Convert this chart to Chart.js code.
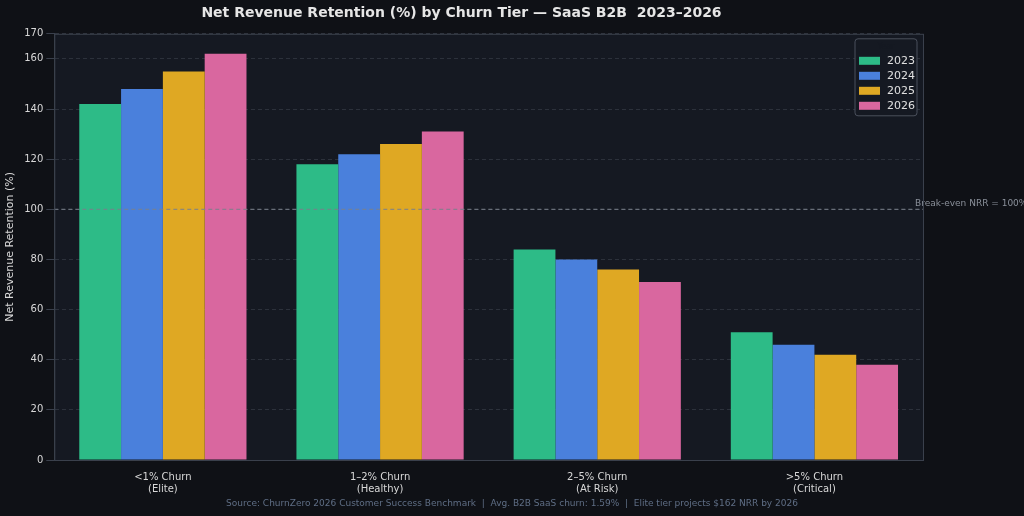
<!DOCTYPE html>
<html><head><meta charset="utf-8">
<script src="https://cdn.jsdelivr.net/npm/chart.js@4"></script>
<style>
html,body{margin:0;background:#0f1116;}
#wrap{width:1024px;height:516px;position:relative;}
</style></head>
<body><div id="wrap"><canvas id="c" width="1024" height="516"></canvas></div>
<script>
const categories = [["<1% Churn", "(Elite)"], ["1–2% Churn", "(Healthy)"], ["2–5% Churn", "(At Risk)"], [">5% Churn", "(Critical)"]];
const years = ["2023", "2024", "2025", "2026"];
const nrr2023 = [142, 118, 84, 51];
const nrr2024 = [148, 122, 80, 46];
const nrr2025 = [155, 126, 76, 42];
const nrr2026 = [162, 131, 71, 38];
const colors = ["#2dbb87", "#4a80dc", "#dfa823", "#d9679f"];
const breakEven = 100;

const font = "'DejaVu Sans', sans-serif";

const extras = {
  id: "extras",
  beforeDraw(chart) {
    const { ctx, chartArea: a } = chart;
    ctx.save();
    ctx.fillStyle = "#151922";
    ctx.fillRect(a.left, a.top, a.right - a.left, a.bottom - a.top);
    ctx.restore();
  },
  afterDatasetsDraw(chart) {
    const { ctx, chartArea: a, scales } = chart;
    const y = scales.y.getPixelForValue(breakEven);
    ctx.save();
    ctx.strokeStyle = "#7a808c";
    ctx.setLineDash([4, 3]);
    ctx.lineWidth = 1;
    ctx.beginPath(); ctx.moveTo(a.left, y); ctx.lineTo(a.right, y); ctx.stroke();
    ctx.setLineDash([]);
    ctx.font = "9px " + font;
    ctx.fillStyle = "#8a909a";
    ctx.textAlign = "left"; ctx.textBaseline = "bottom";
    ctx.fillText("Break-even NRR = 100%", a.right - 8, y - 1);
    // border
    ctx.strokeStyle = "#3a404c";
    ctx.strokeRect(a.left + 0.5, a.top + 0.5, a.right - a.left, a.bottom - a.top);
    // legend
    const lx = a.right - 68, ly = a.top + 5, lw = 62, lh = 77;
    ctx.fillStyle = "#151922"; ctx.strokeStyle = "#4a505c";
    ctx.beginPath(); ctx.roundRect(lx, ly, lw, lh, 3); ctx.fill(); ctx.stroke();
    ctx.font = "8px " + font; ctx.fillStyle = "#151922";
    ctx.textAlign = "center"; ctx.textBaseline = "middle";
    ctx.fillText("Year", lx + lw / 2, ly + 8);
    ctx.font = "11px " + font; ctx.textAlign = "left";
    chart.data.datasets.forEach((ds, i) => {
      const yy = ly + 22 + i * 15;
      ctx.fillStyle = ds.backgroundColor;
      ctx.fillRect(lx + 4, yy - 4, 21, 8);
      ctx.fillStyle = "#e0e0e0";
      ctx.fillText(ds.label, lx + 32, yy);
    });
    ctx.font = "9px " + font; ctx.fillStyle = "#5f6e85"; ctx.textAlign = "center";
    ctx.fillText("Source: ChurnZero 2026 Customer Success Benchmark  |  Avg. B2B SaaS churn: 1.59%  |  Elite tier projects $162 NRR by 2026", 512, 504);
    ctx.restore();
  }
};

const series = [nrr2023, nrr2024, nrr2025, nrr2026];
new Chart(document.getElementById("c"), {
  type: "bar",
  data: {
    labels: categories,
    datasets: series.map((d, i) => ({ label: years[i], data: d, backgroundColor: colors[i], borderWidth: 0 }))
  },
  options: {
    responsive: false, animation: false,
    layout: { padding: { left: 0, right: 101, top: 0, bottom: 18 } },
    datasets: { bar: { categoryPercentage: 0.77, barPercentage: 1 } },
    plugins: {
      legend: { display: false },
      tooltip: { enabled: false },
      title: { display: true, text: "Net Revenue Retention (%) by Churn Tier — SaaS B2B  2023–2026",
        color: "#e6e6e6", font: { family: font, size: 14, weight: "bold" }, padding: { top: 5, bottom: 12 } }
    },
    scales: {
      x: { grid: { display: false }, border: { color: "#3a404c" },
        ticks: { color: "#d8d8d8", font: { family: font, size: 10 } } },
      y: { min: 0, max: 170, ticks: { stepSize: 20, color: "#d8d8d8", font: { family: font, size: 10 } },
        grid: { color: "#2c313b", tickColor: "#3a404c" }, border: { color: "#3a404c", dash: [4, 3] },
        title: { display: true, text: "Net Revenue Retention (%)", color: "#d8d8d8", font: { family: font, size: 11 } } }
    }
  },
  plugins: [extras]
});
</script></body></html>
